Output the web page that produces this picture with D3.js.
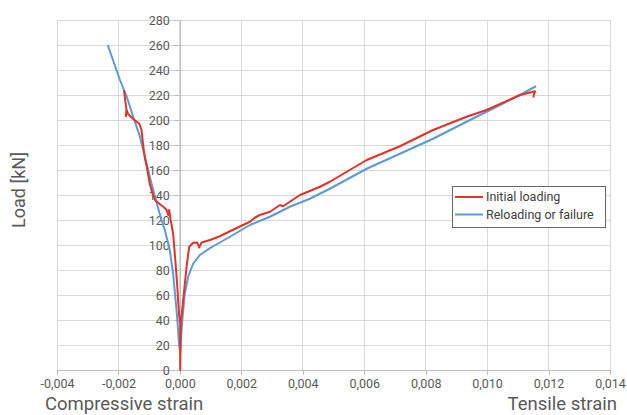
<!DOCTYPE html>
<html>
<head>
<meta charset="utf-8">
<script src="https://cdn.jsdelivr.net/npm/d3@7"></script>
<style>
  html, body { margin: 0; padding: 0; background: #fff; }
  svg { display: block; }
  text { font-family: Roboto, "Open Sans", sans-serif; }
</style>
</head>
<body>
<svg id="chart" width="627" height="415"></svg>
<script>
// ---- Data ----
const xTicks = [-0.004, -0.002, 0.000, 0.002, 0.004, 0.006, 0.008, 0.010, 0.012, 0.014];
const yTicks = [0, 20, 40, 60, 80, 100, 120, 140, 160, 180, 200, 220, 240, 260, 280];
const seriesNames = ["Initial loading", "Reloading or failure"];
const seriesColors = ["#e2322a", "#5b9bd5"];

// Initial loading (red)
const redStrain = [-0.00182, -0.00177, -0.00174, -0.00176, -0.00173, -0.00169, -0.00153, -0.00132, -0.00125, -0.00120,
  -0.00117, -0.00114, -0.00108, -0.00098, -0.00089, -0.00081, -0.00062, -0.00054, -0.00043, -0.00038, -0.00035, -0.00030,
  -0.00027, -0.00022, -0.00016, -0.00009, -0.00003, 0.00001, 0.00001, 0.00003, 0.000107, 0.000218, 0.000303,
  0.000433, 0.000563, 0.000628, 0.000706, 0.000977, 0.0013, 0.00163, 0.00228, 0.00245, 0.0026, 0.00293, 0.00326,
  0.00336, 0.00391, 0.00456, 0.00488, 0.00608, 0.00716, 0.00824, 0.00933, 0.00998, 0.01107, 0.01156, 0.01150];
const redLoad = [224, 214, 208, 203, 208, 205, 201, 197, 192, 181,
  175, 170, 163, 149, 141, 136, 132, 130.6, 128, 124, 128, 120,
  116, 109, 91, 69, 45, 37, 0, 37, 56, 82.6, 98.6,
  101.8, 102, 98, 102, 104, 107, 111, 118.6, 122, 124, 126.6, 132,
  131, 140, 146.6, 150.6, 168, 179, 192, 202.6, 208, 220, 223, 218];

// Reloading or failure (blue)
const blueStrain = [-0.00235, -0.00195, -0.00173, -0.00152, -0.0013, -0.00114, -0.00098, -0.00081, -0.0006, -0.00049,
  -0.00033, -0.00022, -0.00009, -0.00002, 0.00001, 0.00003, 0.000088, 0.00016, 0.00027, 0.00043, 0.00065, 0.00098,
  0.0013, 0.00163, 0.00228, 0.00293, 0.00358, 0.00423, 0.00488, 0.00608, 0.00716, 0.00824, 0.00933, 0.01042,
  0.01107, 0.01159];
const blueLoad = [260, 232, 218.6, 202.6, 186.6, 170.6, 154.6, 138.6, 120, 112,
  96, 77, 42.6, 18.6, 14, 24, 42.6, 61, 74.6, 85, 92, 97.5,
  102, 106.6, 116, 122.6, 130.6, 137, 145, 161, 173, 185, 198.6, 212,
  220, 227];

// ---- Layout ----
const svg = d3.select("#chart");
const mLeft = 57, mRight = 610, mTop = 20, mBottom = 370;
const x = d3.scaleLinear().domain([-0.004, 0.014]).range([mLeft, mRight]);
const y = d3.scaleLinear().domain([0, 280]).range([mBottom, mTop]);
const fmt = d => d3.format(".3f")(d).replace("−", "-").replace(".", ",");

// grid
const grid = svg.append("g");
grid.selectAll("line.v").data(xTicks).enter().append("line")
  .attr("x1", d => x(d)).attr("x2", d => x(d)).attr("y1", mTop).attr("y2", mBottom)
  .attr("stroke", "#d9d9d9").attr("stroke-width", 1).attr("shape-rendering", "crispEdges");
grid.selectAll("line.h").data(yTicks).enter().append("line")
  .attr("x1", mLeft).attr("x2", mRight).attr("y1", d => y(d)).attr("y2", d => y(d))
  .attr("stroke", "#d9d9d9").attr("stroke-width", 1).attr("shape-rendering", "crispEdges");

// x axis
const xAxis = svg.append("g").attr("transform", `translate(0,${mBottom})`)
  .call(d3.axisBottom(x).tickValues(xTicks).tickFormat(fmt).tickSize(5).tickSizeOuter(0));
// y axis at strain 0
const yAxis = svg.append("g").attr("transform", `translate(${x(0)},0)`)
  .call(d3.axisLeft(y).tickValues(yTicks).tickSize(6).tickSizeOuter(0).tickPadding(4));
[xAxis, yAxis].forEach(a => {
  a.selectAll("path").attr("stroke", "#bfbfbf").attr("shape-rendering", "crispEdges");
  a.selectAll("line").attr("stroke", "#bfbfbf").attr("shape-rendering", "crispEdges");
  a.selectAll("text").attr("fill", "#595959").style("font-size", "12.5px")
    .style("font-family", "Roboto, sans-serif");
});
xAxis.selectAll("text").attr("dy", "0.78em");

// lines
const line = d3.line().x(d => x(d[0])).y(d => y(d[1]));
const redData = d3.zip(redStrain, redLoad);
const blueData = d3.zip(blueStrain, blueLoad);
svg.append("path").datum(blueData).attr("d", line)
  .attr("fill", "none").attr("stroke", seriesColors[1]).attr("stroke-width", 2).attr("stroke-linejoin", "round");
svg.append("path").datum(redData).attr("d", line)
  .attr("fill", "none").attr("stroke", seriesColors[0]).attr("stroke-width", 2).attr("stroke-linejoin", "round");

// axis titles
svg.append("text").attr("transform", "translate(25,190) rotate(-90)")
  .attr("text-anchor", "middle").attr("fill", "#595959").style("font-size", "18px").text("Load [kN]");
svg.append("text").attr("x", 45).attr("y", 410)
  .attr("fill", "#595959").style("font-size", "18.5px").text("Compressive strain");
svg.append("text").attr("x", 617).attr("y", 410).attr("text-anchor", "end")
  .attr("fill", "#595959").style("font-size", "18.5px").text("Tensile strain");

// legend
const lg = svg.append("g");
lg.append("rect").attr("x", 452.5).attr("y", 186.5).attr("width", 153).attr("height", 41)
  .attr("fill", "#fff").attr("stroke", "#666").attr("stroke-width", 1);
seriesNames.forEach((n, i) => {
  const yy = 197 + i * 17.5;
  lg.append("line").attr("x1", 455).attr("x2", 483).attr("y1", yy).attr("y2", yy)
    .attr("stroke", seriesColors[i]).attr("stroke-width", 2);
  lg.append("text").attr("x", 486).attr("y", yy).attr("dy", "0.35em")
    .attr("fill", "#404040").style("font-size", "12.5px").text(n);
});
</script>
</body>
</html>
